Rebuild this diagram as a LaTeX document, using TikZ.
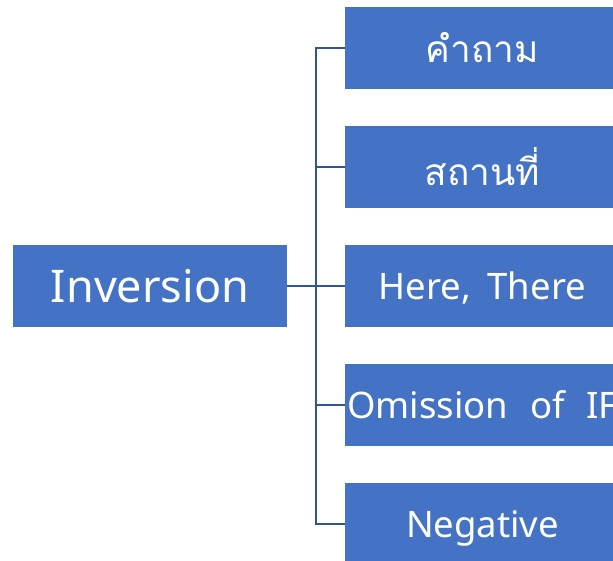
\documentclass[tikz,border=0pt]{standalone}
\usepackage{fontspec}
\setmainfont{Noto Sans}
\newfontfamily\thaifont[Script=Thai]{Loma}
\definecolor{boxblue}{HTML}{4472C4}
\definecolor{linkblue}{HTML}{2F5597}
\begin{document}
\begin{tikzpicture}[x=1pt,y=-1pt,
  box/.style={fill=boxblue, draw=none, text=white, minimum width=275pt, minimum height=82pt, inner sep=0pt, anchor=center},
  bigtext/.style={font=\fontsize{45}{45}\selectfont, text height=32pt, text depth=0pt},
  midtext/.style={font=\fontsize{36.5}{36.5}\selectfont, text height=26pt, text depth=0pt},
  thaitext/.style={font=\thaifont\fontsize{37}{37}\selectfont},
  link/.style={draw=linkblue, line width=2.3pt}]
\useasboundingbox (0,0) rectangle (613,560);
\clip (0,0) rectangle (613,560);
\node[box, bigtext, minimum width=274pt] (root) at (150,286) {Inversion};
\node[box, thaitext] (b1) at (482.5,48) {คำถาม};
\node[box, thaitext] (b2) at (482.5,167) {สถานที่};
\node[box, midtext] (b3) at (482.5,286) {Here,\hspace{0.45em}There};
\node[box, midtext] (b4) at (482.5,405) {Omission\hspace{0.6em}of\hspace{0.6em}IF};
\node[box, midtext] (b5) at (482.5,524) {Negative};
\coordinate (j) at (316,286);
\draw[link] (root.east) -- (j);
\draw[link] (b1.west) -| (j) |- (b5.west);
\draw[link] (j |- b2.west) -- (b2.west);
\draw[link] (j) -- (b3.west);
\draw[link] (j |- b4.west) -- (b4.west);
\end{tikzpicture}
\end{document}
